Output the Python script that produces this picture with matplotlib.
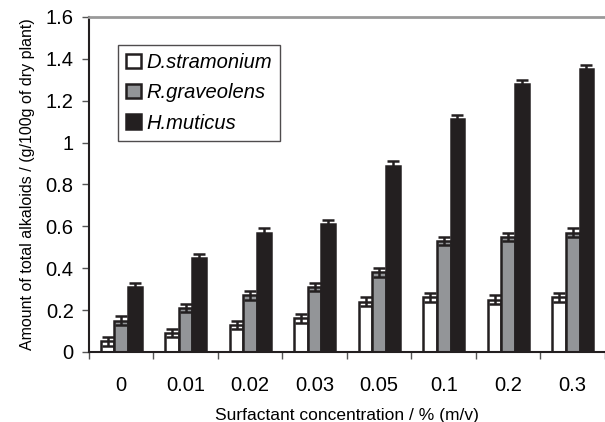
import numpy as np
import matplotlib
matplotlib.use("Agg")
import matplotlib.pyplot as plt

plt.rcParams['font.family'] = ['Liberation Sans', 'DejaVu Sans']

# Data
concs = ['0', '0.01', '0.02', '0.03', '0.05', '0.1', '0.2', '0.3']
d_stram = [0.05, 0.09, 0.13, 0.16, 0.24, 0.26, 0.25, 0.26]
r_grav = [0.15, 0.21, 0.27, 0.31, 0.38, 0.53, 0.55, 0.57]
h_mut = [0.31, 0.45, 0.57, 0.61, 0.89, 1.11, 1.28, 1.35]
d_err = [0.02, 0.02, 0.02, 0.02, 0.02, 0.02, 0.02, 0.02]
r_err = [0.02, 0.02, 0.02, 0.02, 0.02, 0.02, 0.02, 0.02]
h_err = [0.02, 0.02, 0.02, 0.02, 0.02, 0.02, 0.02, 0.02]

fig = plt.figure(figsize=(6.05, 4.22), dpi=100)
ax = fig.add_axes([0.147, 0.166, 0.853, 0.794])

x = np.arange(len(concs))
w = 0.21
ekw = dict(elinewidth=1.8, capthick=1.8, ecolor='#231f20')
ax.bar(x - w, d_stram, w, yerr=d_err, capsize=4, color='white', edgecolor='#231f20',
       linewidth=1.8, error_kw=ekw, label='D.stramonium')
ax.bar(x, r_grav, w, yerr=r_err, capsize=4, color='#939598', edgecolor='#231f20',
       linewidth=1.8, error_kw=ekw, label='R.graveolens')
ax.bar(x + w, h_mut, w, yerr=h_err, capsize=4, color='#231f20', edgecolor='#231f20',
       linewidth=1.8, error_kw=ekw, label='H.muticus')

ax.set_xlim(-0.5, 7.5)
ax.set_ylim(0, 1.6)
ax.set_xticks(x)
ax.set_xticklabels(concs, fontsize=14.5)
ax.set_xticks(np.arange(-0.5, 8.0, 1), minor=True)
ax.tick_params(axis='x', which='major', length=0, pad=17)
ax.tick_params(axis='x', which='minor', length=5, width=1, color='#555555')
yt = np.arange(0, 1.61, 0.2)
ax.set_yticks(yt)
ax.set_yticklabels(['0', '0.2', '0.4', '0.6', '0.8', '1', '1.2', '1.4', '1.6'], fontsize=14.5)
ax.tick_params(axis='y', length=5, width=1, color='#555555', pad=6)

ax.spines['right'].set_visible(False)
ax.spines['top'].set_color('#999999')
ax.spines['top'].set_linewidth(2)
ax.spines['left'].set_color('#231f20')
ax.spines['left'].set_linewidth(1.5)
ax.spines['bottom'].set_color('#231f20')
ax.spines['bottom'].set_linewidth(1.5)

ax.set_xlabel('Surfactant concentration / % (m/v)', fontsize=12.5, labelpad=10)
ax.set_ylabel('Amount of total alkaloids / (g/100g of dry plant)', fontsize=11.5, labelpad=8)

leg = ax.legend(loc='upper left', bbox_to_anchor=(0.057, 0.915),
                prop={'style': 'italic', 'size': 14.5}, fancybox=False, frameon=True,
                handlelength=0.7, handleheight=0.7, handletextpad=0.3,
                borderpad=0.4, labelspacing=0.55, borderaxespad=0)
leg.get_frame().set_edgecolor('#231f20')
leg.get_frame().set_linewidth(1)

fig.savefig('out.png', dpi=100)
